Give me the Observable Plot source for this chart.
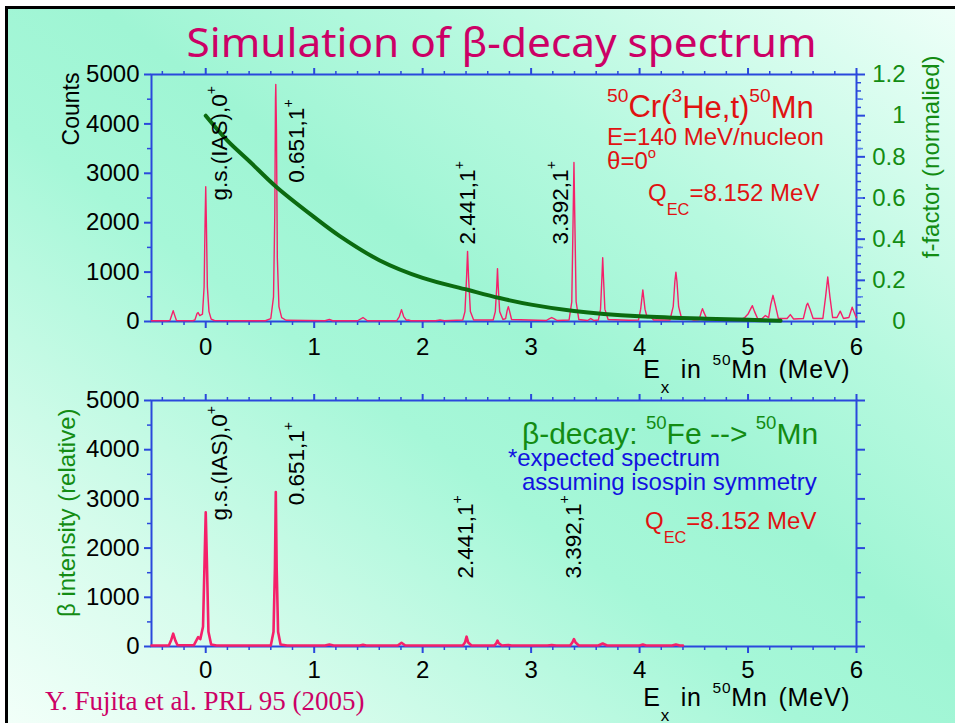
<!DOCTYPE html>
<html>
<head>
<meta charset="utf-8">
<script src="https://cdn.jsdelivr.net/npm/d3@7"></script>
<script src="https://cdn.jsdelivr.net/npm/@observablehq/plot@0.6"></script>
<style>
html,body{margin:0;padding:0;background:#fff;}
#page{position:relative;width:955px;height:723px;overflow:hidden;font-family:"Liberation Sans",Arial,sans-serif;}
#slide{position:absolute;left:5px;top:6px;width:950px;height:717px;box-sizing:border-box;
  border-left:3px solid #000;border-top:3px solid #000;
  background:linear-gradient(to top right,#f2fff9 0%,#d6fcec 18%,#a6f7d8 42%,#9ff5d4 55%,#b6f9df 72%,#eefff8 100%);}
#title{position:absolute;left:24px;top:22px;width:955px;text-align:center;font-family:"Noto Sans",sans-serif;
  font-size:40px;line-height:40px;color:#cc0066;white-space:nowrap;}
#title span{display:inline-block;transform-origin:center;}
.chart{position:absolute;left:0;}
#topChart{top:45px;}
#bottomChart{top:385px;}
#caption{position:absolute;left:45px;top:688px;font-family:"Liberation Serif",serif;font-size:27px;line-height:27px;color:#cc0066;white-space:nowrap;}
</style>
</head>
<body>
<div id="page">
  <div id="slide"></div>
  <div id="title"><span>Simulation of β-decay spectrum</span></div>
  <div id="topChart" class="chart"></div>
  <div id="bottomChart" class="chart"></div>
  <div id="caption">Y. Fujita et al. PRL 95 (2005)</div>
</div>
<script>
// ---------- data ----------
// (3He,t) spectrum: [Ex (MeV), counts]
const topCounts = [
  [-0.5,15],[-0.36,15],[-0.33,20],[-0.31,150],[-0.30,220],[-0.29,150],[-0.27,20],
  [-0.12,15],[-0.10,30],[-0.08,160],[-0.07,180],[-0.055,120],
  [-0.03,150],[-0.015,700],[-0.006,2000],[0.0,2730],[0.006,2000],[0.015,700],[0.03,200],[0.05,50],[0.08,20],
  [0.55,15],[0.60,60],[0.625,500],[0.637,2200],[0.643,4500],[0.646,4800],[0.652,3900],[0.66,1300],[0.675,300],[0.70,80],[0.74,25],
  [1.10,15],[1.14,40],[1.17,15],[1.40,15],[1.45,80],[1.49,15],
  [1.76,15],[1.785,100],[1.805,240],[1.825,100],[1.85,25],[1.87,30],[1.89,15],
  [2.12,15],[2.16,30],[2.20,15],
  [2.37,30],[2.39,200],[2.405,900],[2.414,1420],[2.423,900],[2.44,200],[2.47,30],
  [2.65,30],[2.67,200],[2.683,700],[2.69,1070],[2.697,700],[2.71,200],[2.74,40],
  [2.765,60],[2.78,230],[2.79,300],[2.80,220],[2.82,40],
  [3.14,20],[3.17,60],[3.19,80],[3.21,60],[3.24,20],
  [3.35,30],[3.375,400],[3.388,2200],[3.395,3220],[3.402,2200],[3.415,400],[3.44,40],
  [3.52,20],[3.55,60],[3.58,20],
  [3.62,30],[3.64,250],[3.653,900],[3.66,1290],[3.667,900],[3.68,250],[3.71,40],
  [3.90,25],[3.99,30],[4.01,250],[4.03,640],[4.05,250],[4.07,80],[4.10,100],[4.13,30],
  [4.28,30],[4.31,300],[4.325,800],[4.335,1000],[4.345,800],[4.36,300],[4.39,40],[4.46,60],[4.50,30],
  [4.55,40],[4.57,200],[4.58,260],[4.59,200],[4.62,50],[4.70,50],[4.75,30],[4.86,40],[4.92,30],
  [4.97,80],[5.00,150],[5.03,280],[5.04,320],[5.06,200],[5.09,50],[5.13,60],[5.16,120],[5.19,80],
  [5.21,350],[5.23,530],[5.25,350],[5.28,60],[5.36,60],[5.39,140],[5.42,50],
  [5.51,60],[5.54,330],[5.55,370],[5.57,260],[5.60,60],
  [5.69,60],[5.715,500],[5.735,900],[5.755,500],[5.78,80],
  [5.82,80],[5.85,210],[5.88,60],[5.93,80],[5.96,290],[5.99,120],[6.0,80]
];
// f-factor (normalised): [Ex (MeV), f]
const fFactor = [
  [0,1.0],[0.2,0.879],[0.4,0.78],[0.646,0.656],[1.0,0.507],[1.236,0.415],[1.6,0.298],
  [2.0,0.212],[2.414,0.154],[2.71,0.114],[3.0,0.082],[3.395,0.051],[4.0,0.025],[4.71,0.012],[5.0,0.008],[5.3,0.004]
];
// expected beta-decay spectrum: [Ex (MeV), relative intensity]
const betaIntensity = [
  [-0.5,20],[-0.34,20],[-0.32,120],[-0.30,260],[-0.28,120],[-0.26,25],
  [-0.11,25],[-0.08,150],[-0.07,190],[-0.05,150],
  [-0.025,400],[-0.01,1800],[0.0,2730],[0.01,1800],[0.025,300],[0.05,40],[0.1,20],
  [0.60,20],[0.625,300],[0.638,1600],[0.646,3140],[0.654,1600],[0.667,300],[0.69,40],[0.75,20],
  [1.10,20],[1.14,40],[1.18,20],[1.42,20],[1.45,35],[1.48,20],
  [1.77,20],[1.805,75],[1.84,20],
  [2.37,20],[2.39,80],[2.405,200],[2.42,80],[2.45,20],
  [2.66,20],[2.68,70],[2.69,120],[2.70,70],[2.73,20],[2.76,25],[2.79,30],[2.82,20],
  [3.15,20],[3.19,30],[3.23,20],
  [3.36,20],[3.38,80],[3.395,150],[3.41,80],[3.44,20],
  [3.62,20],[3.66,60],[3.70,20],
  [4.0,20],[4.03,40],[4.06,20],[4.30,20],[4.335,40],[4.37,20],[4.40,20]
];
const peakLabels = ["g.s.(IAS),0^{+}", "0.651,1^{+}", "2.441,1^{+}", "3.392,1^{+}"];
const topLabelE = [0.13, 0.84, 2.42, 3.27];
const topLabelV = [2450, 2810, 1560, 1560];
const botLabelE = [0.13, 0.84, 2.40, 3.39];
const botLabelV = [2560, 2870, 1380, 1380];

const eTicks = [0, 1, 2, 3, 4, 5, 6];
const countTicks = [0, 1000, 2000, 3000, 4000, 5000];
const fTicks = [0, 0.2, 0.4, 0.6, 0.8, 1, 1.2];
const countMinor = [500, 1500, 2500, 3500, 4500];

(function () {
const eMinor = d3.range(-4, 61, 2).map(v => v / 10).filter(v => v % 1 !== 0);
const fMinor = d3.range(0, 121, 4).map(v => v / 100).filter(v => Math.round(v * 100) % 20 !== 0);

// ---------- styles ----------
const blue = "#2a48dc", pink = "#f5206a", green = "#138c13", dkgreen = "#0b6b10", red = "#e01212", navy = "#1212e0";
const fMax = 1.2, cMax = 5000, fs = cMax / fMax;

function common(xPad) {
  return [
    Plot.frame({stroke: blue, strokeWidth: 2}),
    Plot.axisX({anchor: "bottom", ticks: eTicks, tickSize: 7, tickPadding: xPad, stroke: blue, strokeWidth: 2, fill: "black", fontSize: 24, label: null, tickFormat: d => String(d)}),
    Plot.axisX({anchor: "bottom", ticks: eMinor, tickSize: 4, stroke: blue, strokeWidth: 1.5, fill: "none", label: null}),
    Plot.axisX({anchor: "top", ticks: eTicks, tickSize: 7, stroke: blue, strokeWidth: 2, fill: "none", label: null}),
    Plot.axisX({anchor: "top", ticks: eMinor, tickSize: 4, stroke: blue, strokeWidth: 1.5, fill: "none", label: null}),
    Plot.axisY({anchor: "left", ticks: countTicks, tickSize: 7, tickPadding: 5, stroke: blue, strokeWidth: 2, fill: "black", fontSize: 24, label: null, tickFormat: d => String(d)}),
    Plot.axisY({anchor: "left", ticks: countMinor, tickSize: 4, stroke: blue, strokeWidth: 1.5, fill: "none", label: null})
  ];
}

function richText(svg) {
  const NS = "http://www.w3.org/2000/svg";
  d3.select(svg).selectAll("text").each(function () {
    const s = this.textContent;
    if (s.includes("(MeV)")) { this.setAttribute("letter-spacing", "0.8px"); this.setAttribute("word-spacing", "3px"); }
    if (!/[\^_]\{/.test(s)) return;
    const parts = s.split(/(\^\{[^}]*\}|_\{[^}]*\})/).filter(p => p !== "");
    this.textContent = "";
    let cur = 0;
    for (const p of parts) {
      let txt = p, sc = 1, off = 0;
      if (p.startsWith("^{")) { txt = p.slice(2, -1); sc = 0.62; off = -0.5; }
      else if (p.startsWith("_{")) { txt = p.slice(2, -1); sc = 0.68; off = 0.6; }
      const ts = document.createElementNS(NS, "tspan");
      if (sc !== 1) ts.setAttribute("font-size", (sc * 100) + "%");
      const d = (off - cur) / sc;
      if (Math.abs(d) > 1e-9) ts.setAttribute("dy", d.toFixed(3) + "em");
      cur = off;
      ts.textContent = txt;
      this.appendChild(ts);
    }
  });
}

const styleBase = {background: "transparent", overflow: "visible", fontFamily: "'Liberation Sans', Arial, sans-serif", fontSize: "23px", color: "black"};

// ---------- top panel ----------
const topPlot = Plot.plot({
  width: 955, height: 340,
  marginLeft: 151, marginRight: 99, marginTop: 29, marginBottom: 64,
  x: {domain: [-0.5, 6], label: null},
  y: {domain: [0, cMax], label: null},
  style: styleBase,
  marks: [
    ...common(9),
    Plot.axisY({anchor: "right", ticks: fTicks.map(f => f * fs), tickSize: 8, tickPadding: 41, textAnchor: "end",
      tickFormat: d => String(+(d / fs).toFixed(2)), stroke: blue, strokeWidth: 2, fill: green, fontSize: 24, label: null}),
    Plot.axisY({anchor: "right", ticks: fMinor.map(f => f * fs), tickSize: 4, stroke: blue, strokeWidth: 1.5, fill: "none", label: null}),
    Plot.axisY({anchor: "right", ticks: countMinor, tickSize: 6, stroke: "#5a86e8", strokeWidth: 1.5, fill: "none", label: null}),
    Plot.line(topCounts, {x: d => d[0], y: d => d[1], stroke: pink, strokeWidth: 1.4}),
    Plot.line(fFactor, {x: d => d[0], y: d => d[1] * fs, stroke: dkgreen, strokeWidth: 4, curve: "catmull-rom"}),
    Plot.text(peakLabels, {x: (d, i) => topLabelE[i], y: (d, i) => topLabelV[i], text: d => d, rotate: -90,
      textAnchor: "start", lineAnchor: "middle", fill: "black", fontSize: 22.5}),
    Plot.text(["^{50}Cr(^{3}He,t)^{50}Mn"], {x: 3.70, y: 4130, text: d => d, textAnchor: "start", lineAnchor: "bottom", fill: red, fontSize: 31}),
    Plot.text(["E=140 MeV/nucleon"], {x: 3.70, y: 3563, text: d => d, textAnchor: "start", lineAnchor: "bottom", fill: red, fontSize: 24}),
    Plot.text(["θ=0^{o}"], {x: 3.70, y: 3077, text: d => d, textAnchor: "start", lineAnchor: "bottom", fill: red, fontSize: 24}),
    Plot.text(["Q_{EC}=8.152 MeV"], {x: 4.078, y: 2449, text: d => d, textAnchor: "start", lineAnchor: "bottom", fill: red, fontSize: 24}),
    Plot.text(["Counts"], {frameAnchor: "top-left", text: d => d, rotate: -90, textAnchor: "end", lineAnchor: "middle", dx: -80, dy: -2, fill: "black", fontSize: 23}),
    Plot.text(["f-factor (normalied)"], {frameAnchor: "top-right", text: d => d, rotate: -90, textAnchor: "end", lineAnchor: "middle", dx: 75, dy: -19, fill: green, fontSize: 24}),
    Plot.text(["E_{x} in ^{50}Mn (MeV)"], {frameAnchor: "bottom-right", text: d => d, textAnchor: "end", lineAnchor: "bottom", dx: -6, dy: 56, fill: "black", fontSize: 25})
  ]
});
richText(topPlot);
document.getElementById("topChart").appendChild(topPlot);

// ---------- bottom panel ----------
const bottomPlot = Plot.plot({
  width: 955, height: 338,
  marginLeft: 151, marginRight: 99, marginTop: 15, marginBottom: 77,
  x: {domain: [-0.5, 6], label: null},
  y: {domain: [0, cMax], label: null},
  style: styleBase,
  marks: [
    ...common(7),
    Plot.axisY({anchor: "right", ticks: countTicks, tickSize: 8, stroke: blue, strokeWidth: 2, fill: "none", label: null}),
    Plot.axisY({anchor: "right", ticks: countMinor, tickSize: 4, stroke: blue, strokeWidth: 1.5, fill: "none", label: null}),
    Plot.line(betaIntensity, {x: d => d[0], y: d => d[1], stroke: pink, strokeWidth: 2.6}),
    Plot.text(peakLabels, {x: (d, i) => botLabelE[i], y: (d, i) => botLabelV[i], text: d => d, rotate: -90,
      textAnchor: "start", lineAnchor: "middle", fill: "black", fontSize: 22.5}),
    Plot.text(["β-decay: ^{50}Fe --> ^{50}Mn"], {x: 2.915, y: 4126, text: d => d, textAnchor: "start", lineAnchor: "bottom", fill: green, fontSize: 30}),
    Plot.text(["*expected spectrum"], {x: 2.786, y: 3659, text: d => d, textAnchor: "start", lineAnchor: "bottom", fill: navy, fontSize: 24}),
    Plot.text(["assuming isospin symmetry"], {x: 2.915, y: 3171, text: d => d, textAnchor: "start", lineAnchor: "bottom", fill: navy, fontSize: 24}),
    Plot.text(["Q_{EC}=8.152 MeV"], {x: 4.05, y: 2398, text: d => d, textAnchor: "start", lineAnchor: "bottom", fill: red, fontSize: 24}),
    Plot.text(["β intensity (relative)"], {frameAnchor: "top-left", text: d => d, rotate: -90, textAnchor: "end", lineAnchor: "middle", dx: -84, dy: 8, fill: green, fontSize: 24}),
    Plot.text(["E_{x} in ^{50}Mn (MeV)"], {frameAnchor: "bottom-right", text: d => d, textAnchor: "end", lineAnchor: "bottom", dx: -6, dy: 59, fill: "black", fontSize: 25})
  ]
});
richText(bottomPlot);
document.getElementById("bottomChart").appendChild(bottomPlot);

// fit title width to the reference (~630px)
const tspan = document.querySelector("#title span");
const w = tspan.getBoundingClientRect().width;
if (w > 0) tspan.style.transform = `scaleX(${630 / w})`;
})();
</script>
</body>
</html>
